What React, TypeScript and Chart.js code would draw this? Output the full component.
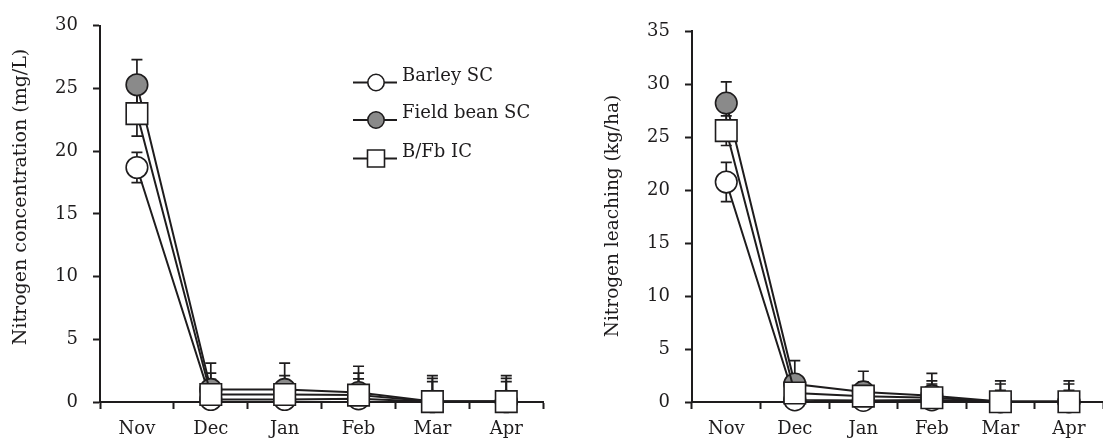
import React, { useEffect, useRef } from "react";
import { Chart, registerables } from "chart.js";

Chart.register(...registerables);

// ---------- data ----------
const months = ["Nov", "Dec", "Jan", "Feb", "Mar", "Apr"];

const seriesNames = ["Barley SC", "Field bean SC", "B/Fb IC"];

// Left: Nitrogen concentration (mg/L)
const concBarley = [18.7, 0.2, 0.2, 0.25, 0.02, 0.02];
const concBarleyErr = [1.2, 1.6, 1.5, 1.6, 1.6, 1.6];
const concFieldBean = [25.3, 1.0, 1.0, 0.75, 0.05, 0.05];
const concFieldBeanErr = [2.0, 2.1, 2.1, 2.1, 2.05, 2.05];
const concBFb = [23.0, 0.6, 0.6, 0.55, 0.03, 0.03];
const concBFbErr = [1.8, 1.7, 1.5, 1.75, 1.85, 1.85];
const concMax = 30;

// Right: Nitrogen leaching (kg/ha)
const leachBarley = [20.75, 0.2, 0.15, 0.2, 0.02, 0.02];
const leachBarleyErr = [1.85, 1.2, 1.4, 1.5, 1.08, 1.08];
const leachFieldBean = [28.2, 1.7, 0.95, 0.6, 0.05, 0.05];
const leachFieldBeanErr = [2.0, 2.2, 1.95, 2.1, 1.95, 1.95];
const leachBFb = [25.6, 0.85, 0.55, 0.4, 0.03, 0.03];
const leachBFbErr = [1.4, 1.1, 1.35, 1.6, 1.67, 1.67];
const leachMax = 35;

const tickStep = 5;

// ---------- styles ----------
const INK = "#1e1c1d";
const GREY = "#8a8a8a";
const FONT = "'DejaVu Serif', 'Liberation Serif', serif";

const errorBarPlugin = {
  id: "errorBars",
  beforeDatasetsDraw(chart: any) {
    const ctx = chart.ctx;
    const yScale = chart.scales.y;
    chart.data.datasets.forEach((ds: any, i: number) => {
      const meta = chart.getDatasetMeta(i);
      const errs: number[] = ds.errors || [];
      meta.data.forEach((pt: any, j: number) => {
        const v = ds.data[j];
        const e = errs[j];
        if (e == null) return;
        const top = yScale.getPixelForValue(v + e);
        const lowV = v - e;
        const bottom = yScale.getPixelForValue(Math.max(lowV, 0));
        ctx.save();
        ctx.strokeStyle = INK;
        ctx.lineWidth = 1.7;
        ctx.beginPath();
        ctx.moveTo(pt.x, top);
        ctx.lineTo(pt.x, bottom);
        ctx.moveTo(pt.x - 5.5, top);
        ctx.lineTo(pt.x + 5.5, top);
        if (lowV > 0) {
          ctx.moveTo(pt.x - 5.5, bottom);
          ctx.lineTo(pt.x + 5.5, bottom);
        }
        ctx.stroke();
        ctx.restore();
      });
    });
  },
};

const axisTitlePlugin = {
  id: "axisTitle",
  afterDraw(chart: any, _args: any, opts: any) {
    if (!opts || !opts.text) return;
    const ctx = chart.ctx;
    ctx.save();
    ctx.translate(opts.x, opts.y);
    ctx.rotate(-Math.PI / 2);
    ctx.fillStyle = INK;
    ctx.font = `${opts.size}px ${FONT}`;
    ctx.textAlign = "center";
    ctx.textBaseline = "alphabetic";
    ctx.fillText(opts.text, 0, 0);
    ctx.restore();
  },
};

const legendPlugin = {
  id: "customLegend",
  afterDraw(chart: any, _args: any, opts: any) {
    if (!opts || !opts.show) return;
    const ctx = chart.ctx;
    const x0 = 353;
    const x1 = 397;
    const mx = 376;
    const rows = [82.5, 120, 158.5];
    const fills = ["#ffffff", GREY, "#ffffff"];
    ctx.save();
    rows.forEach((y, i) => {
      ctx.strokeStyle = INK;
      ctx.lineWidth = 2;
      ctx.beginPath();
      ctx.moveTo(x0, y);
      ctx.lineTo(x1, y);
      ctx.stroke();
      ctx.fillStyle = fills[i];
      ctx.lineWidth = 1.6;
      ctx.beginPath();
      if (i === 2) {
        ctx.rect(mx - 8.5, y - 8.5, 17, 17);
      } else {
        ctx.arc(mx, y, 8.2, 0, Math.PI * 2);
      }
      ctx.fill();
      ctx.stroke();
      ctx.fillStyle = INK;
      ctx.font = `18px ${FONT}`;
      ctx.textBaseline = "alphabetic";
      ctx.textAlign = "left";
      ctx.fillText(seriesNames[i], 402, y - 2);
    });
    ctx.restore();
  },
};

function makeDataset(label: string, data: number[], errors: number[], style: string, fill: string, order: number) {
  return {
    label,
    data,
    errors,
    order,
    clip: false,
    borderColor: INK,
    borderWidth: 2,
    pointStyle: style,
    pointRadius: style === "rect" ? 15.2 : 10.8,
    pointBackgroundColor: fill,
    pointBorderColor: INK,
    pointBorderWidth: 1.6,
    tension: 0,
  } as any;
}

function buildConfig(opts: {
  datasets: any[];
  max: number;
  title: string;
  titleX: number;
  titleY: number;
  titleSize: number;
  yWidth: number;
  padding: any;
  legend: boolean;
}) {
  return {
    type: "line",
    data: { labels: months, datasets: opts.datasets },
    options: {
      responsive: false,
      animation: false,
      events: [],
      layout: { padding: opts.padding },
      plugins: {
        legend: { display: false },
        tooltip: { enabled: false },
        axisTitle: { text: opts.title, x: opts.titleX, y: opts.titleY, size: opts.titleSize },
        customLegend: { show: opts.legend },
      },
      scales: {
        x: {
          type: "category",
          offset: true,
          grid: {
            offset: true,
            drawOnChartArea: false,
            drawTicks: true,
            tickLength: 7,
            tickWidth: 2,
            tickColor: INK,
          },
          border: { display: true, width: 2, color: INK },
          ticks: { color: INK, font: { family: FONT, size: 18 }, padding: 10 },
          afterFit: (s: any) => {
            s.height = 39;
          },
        },
        y: {
          type: "linear",
          min: 0,
          max: opts.max,
          grid: {
            drawOnChartArea: false,
            drawTicks: true,
            tickLength: 7,
            tickWidth: 2,
            tickColor: INK,
          },
          border: { display: true, width: 2, color: INK },
          ticks: {
            stepSize: tickStep,
            color: INK,
            font: { family: FONT, size: 18 },
            padding: 15,
          },
          afterFit: (s: any) => {
            s.width = opts.yWidth;
          },
        },
      },
    },
    plugins: [errorBarPlugin, axisTitlePlugin, legendPlugin],
  } as any;
}

export default function App() {
  const leftRef = useRef<HTMLCanvasElement | null>(null);
  const rightRef = useRef<HTMLCanvasElement | null>(null);

  useEffect(() => {
    const left = new Chart(
      leftRef.current as HTMLCanvasElement,
      buildConfig({
        datasets: [
          makeDataset(seriesNames[0], concBarley, concBarleyErr, "circle", "#ffffff", 3),
          makeDataset(seriesNames[1], concFieldBean, concFieldBeanErr, "circle", GREY, 2),
          makeDataset(seriesNames[2], concBFb, concBFbErr, "rect", "#ffffff", 1),
        ],
        max: concMax,
        title: "Nitrogen concentration (mg/L)",
        titleX: 26,
        titleY: 197,
        titleSize: 19,
        yWidth: 100,
        padding: { top: 25, right: 4, bottom: 0, left: 0 },
        legend: true,
      })
    );
    const right = new Chart(
      rightRef.current as HTMLCanvasElement,
      buildConfig({
        datasets: [
          makeDataset(seriesNames[0], leachBarley, leachBarleyErr, "circle", "#ffffff", 3),
          makeDataset(seriesNames[1], leachFieldBean, leachFieldBeanErr, "circle", GREY, 2),
          makeDataset(seriesNames[2], leachBFb, leachBFbErr, "rect", "#ffffff", 1),
        ],
        max: leachMax,
        title: "Nitrogen leaching (kg/ha)",
        titleX: 58,
        titleY: 216,
        titleSize: 18.5,
        yWidth: 132,
        padding: { top: 31, right: 8, bottom: 0, left: 0 },
        legend: false,
      })
    );
    return () => {
      left.destroy();
      right.destroy();
    };
  }, []);

  return (
    <div
      style={{
        position: "fixed",
        left: 0,
        top: 0,
        width: 1103,
        height: 441,
        overflow: "hidden",
        background: "#ffffff",
      }}
    >
      <canvas ref={leftRef} width={560} height={441} style={{ position: "absolute", left: 0, top: 0 }} />
      <canvas ref={rightRef} width={560} height={441} style={{ position: "absolute", left: 560, top: 0 }} />
    </div>
  );
}
